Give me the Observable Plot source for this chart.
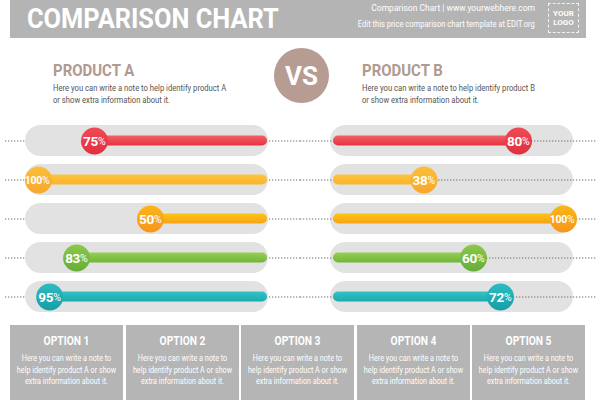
<!DOCTYPE html>
<html>
<head>
<meta charset="utf-8">
<script src="https://cdn.jsdelivr.net/npm/d3@7"></script>
<script src="https://cdn.jsdelivr.net/npm/@observablehq/plot@0.6"></script>
<style>
  html, body { margin: 0; padding: 0; background: #fff; }
  #page { position: relative; width: 600px; height: 400px; overflow: hidden; background: #fff;
          font-family: Roboto, sans-serif; }
  .abs { position: absolute; }
  #header { left: 10px; top: 0; width: 576px; height: 38px; background: #b4b4b4; }
  #title { left: 27px; top: 3px; font: 700 27px Roboto, sans-serif; color: #fff; white-space: nowrap; transform: scaleX(0.94); transform-origin: 0 0; }
  .hline { right: 65px; color: #fff; white-space: nowrap; text-align: right; transform-origin: 100% 0; }
  #logo { left: 548px; top: 3px; width: 29px; height: 28px; border: 1px dashed rgba(255,255,255,0.85);
          color: #fff; font: 700 8px Roboto, sans-serif; line-height: 9px; text-align: center;
          display: flex; align-items: center; justify-content: center; }
  .prod { font: 700 17px Roboto, sans-serif; color: #b09a91; white-space: nowrap; transform: scaleX(0.88); transform-origin: 0 0; }
  .note { font-size: 9px; color: #555; line-height: 11.5px; white-space: nowrap; transform: scaleX(0.85); transform-origin: 0 0; }
  #vs { left: 274px; top: 48px; width: 55px; height: 55px; border-radius: 50%; background: #b69c92;
        color: #fff; font: 700 26px Roboto, sans-serif; display: flex; align-items: center; justify-content: center; }
  .opt { top: 325px; width: 113px; height: 80px; background: #b5b5b5; color: #fff; text-align: center; }
  .opt h3 { margin: 8px 0 5px; font: 700 12.5px Roboto, sans-serif; transform: scaleX(0.82); white-space: nowrap; }
  .opt p { margin: 0 -20px; font-size: 9px; line-height: 11.7px; white-space: nowrap; transform: scaleX(0.8); }
</style>
</head>
<body>
<div id="page"></div>
<script>
// Rows of the comparison and the two products' scores (percent)
const options = ["OPTION 1", "OPTION 2", "OPTION 3", "OPTION 4", "OPTION 5"];
const productA = [75, 100, 50, 83, 95];
const productB = [80, 38, 100, 60, 72];
// Row colours, light top to darker bottom
const barTop = ["#f25f67", "#fdc43f", "#fdc50f", "#95ce53", "#33c3c4"];
const barBottom = ["#e5323f", "#fab42a", "#f8a21a", "#71b53a", "#1baab0"];
const knobTop = ["#ef4a55", "#fbbe3a", "#fbb614", "#8cc84a", "#2cbcc0"];
const knobBottom = ["#e0303f", "#f8a72c", "#f6951f", "#66ad38", "#159fa8"];
const optionNote = "Here you can write a note to<br>help identify product A or show<br>extra information about it.";
const productNote = (p) => `Here you can write a note to help identify product ${p}<br>or show extra information about it.`;
const maxScore = 100;

const page = document.getElementById("page");
function add(html) { page.insertAdjacentHTML("beforeend", html); }

// Header band
add(`<div id="header" class="abs"></div>`);
add(`<div id="title" class="abs">COMPARISON CHART</div>`);
add(`<div class="abs hline" style="top:3px;font-size:8.5px">Comparison Chart | www.yourwebhere.com</div>`);
add(`<div class="abs hline" style="top:18.5px;font-size:8.5px;transform:scaleX(0.89)">Edit this price comparison chart template at EDIT.org</div>`);
add(`<div id="logo" class="abs">YOUR<br>LOGO</div>`);

// Product headings and VS badge
add(`<div class="abs prod" style="left:53px;top:60px">PRODUCT A</div>`);
add(`<div class="abs note" style="left:53px;top:83px">${productNote("A")}</div>`);
add(`<div class="abs prod" style="left:362px;top:60px">PRODUCT B</div>`);
add(`<div class="abs note" style="left:362px;top:83px">${productNote("B")}</div>`);
add(`<div id="vs" class="abs">VS</div>`);

// Option boxes
options.forEach((o, i) => {
  add(`<div class="abs opt" style="left:${10 + i * 115.6}px"><h3>${o}</h3><p>${optionNote}</p></div>`);
});

function rowsFor(side, scores) {
  return options.map((o, i) => ({
    option: o, value: scores[i],
    bar: `url(#${side}-bar-${i})`, knob: `url(#${side}-knob-${i})`
  }));
}

function gradients(side) {
  const grad = (id, a, b) =>
    `<linearGradient id="${id}" x1="0" y1="0" x2="0" y2="1"><stop offset="0" stop-color="${a}"/><stop offset="1" stop-color="${b}"/></linearGradient>`;
  return `<defs>${options.map((_, i) =>
    grad(`${side}-bar-${i}`, barTop[i], barBottom[i]) + grad(`${side}-knob-${i}`, knobTop[i], knobBottom[i])
  ).join("")}</defs>`;
}

function gauge(rows, side) {
  const left = side === "A";
  const track = Plot.barX(rows, {
    y: "option", x1: 0, x2: maxScore, fill: "#e2e2e2", rx: 15.5,
    insetLeft: left ? -13 : -8, insetRight: left ? -6 : -10
  });
  const dots = Plot.ruleY(rows, {
    y: "option", stroke: "#6f6f6f", strokeWidth: 1.2, strokeDasharray: "1.3,1.7",
    insetLeft: left ? -33 : -38, insetRight: left ? -38 : -34
  });
  const font = "Roboto, sans-serif";
  const svg = Plot.plot({
    width: 300, height: 200,
    marginTop: 3, marginBottom: 2, marginLeft: 38, marginRight: left ? 38 : 37,
    x: {domain: [0, maxScore], reverse: left, axis: null},
    y: {domain: options, paddingInner: 0.2, paddingOuter: 0.1, axis: null},
    color: {type: "identity"},
    style: {background: "transparent", overflow: "visible", letterSpacing: "-0.3px"},
    marks: [
      ...(left ? [dots, track] : [track, dots]),
      Plot.barX(rows, {y: "option", x1: 0, x2: "value", fill: "bar", rx: 5,
        insetTop: 10.6, insetBottom: 10.6, insetLeft: left ? 0 : -5, insetRight: left ? -5 : 0}),
      Plot.dot(rows, {y: "option", x: "value", r: 13.5, fill: "knob"}),
      Plot.text(rows, {y: "option", x: "value", text: d => String(d.value), textAnchor: "end", dx: 3.5, dy: 0.5,
        fill: "#fff", fontSize: d => d.value >= 100 ? 10.5 : 13.5, fontWeight: 700, fontFamily: font}),
      Plot.text(rows, {y: "option", x: "value", text: d => "%", textAnchor: "start", dx: 3.5, dy: 0.5,
        fill: "#fff", fontSize: 10.5, fontFamily: font})
    ]
  });
  svg.insertAdjacentHTML("afterbegin", gradients(side));
  return svg;
}

[["A", productA, 0], ["B", productB, 300]].forEach(([side, scores, x]) => {
  const svg = gauge(rowsFor(side, scores), side);
  svg.style.position = "absolute";
  svg.style.left = x + "px";
  svg.style.top = "118px";
  page.appendChild(svg);
});
</script>
</body>
</html>
